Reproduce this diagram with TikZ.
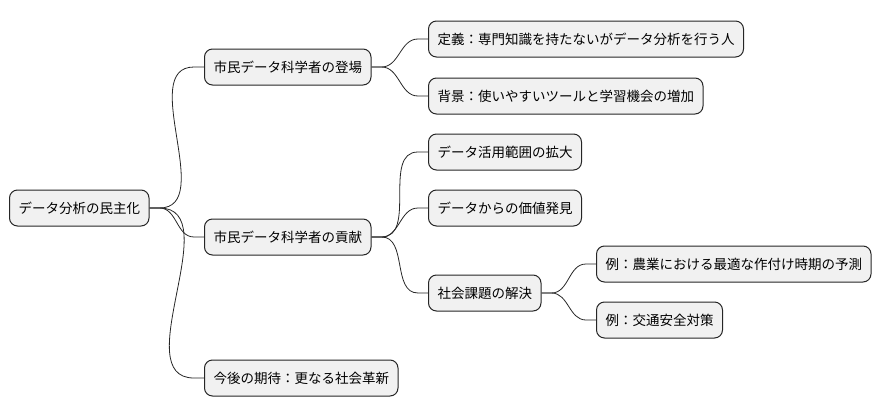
\documentclass[tikz,border=0pt]{standalone}
\usepackage{fontspec}
\setmainfont{Noto Sans CJK JP}
\begin{document}
\begin{tikzpicture}[x=1pt,y=-1pt,
  box/.style={draw=black!85,fill={rgb,255:red,241;green,241;blue,241},rounded corners=8pt,line width=1pt,minimum height=36pt,inner xsep=9pt,anchor=west,font=\fontsize{13.5}{16}\selectfont},
  con/.style={draw=black!85,line width=0.8pt}]
\useasboundingbox (0,0) rectangle (894,415);
\node[box] (r) at (9,208) {データ分析の民主化};
\node[box] (a) at (204,67) {市民データ科学者の登場};
\node[box] (b) at (204,237) {市民データ科学者の貢献};
\node[box] (c) at (204,378) {今後の期待：更なる社会革新};
\node[box] (a1) at (428,39) {定義：専門知識を持たないがデータ分析を行う人};
\node[box] (a2) at (428,96) {背景：使いやすいツールと学習機会の増加};
\node[box] (b1) at (428,152) {データ活用範囲の拡大};
\node[box] (b2) at (428,208) {データからの価値発見};
\node[box] (b3) at (428,293) {社会課題の解決};
\node[box] (b31) at (596,264) {例：農業における最適な作付け時期の予測};
\node[box] (b32) at (596,320) {例：交通安全対策};
\foreach \p/\c in {r/a,r/b,r/c,a/a1,a/a2,b/b1,b/b2,b/b3,b3/b31,b3/b32}{
  \draw[con] (\p.east) -- ++(10,0) to[out=0,in=180,looseness=1] ([xshift=-10pt]\c.west) -- (\c.west);
}
\end{tikzpicture}
\end{document}
